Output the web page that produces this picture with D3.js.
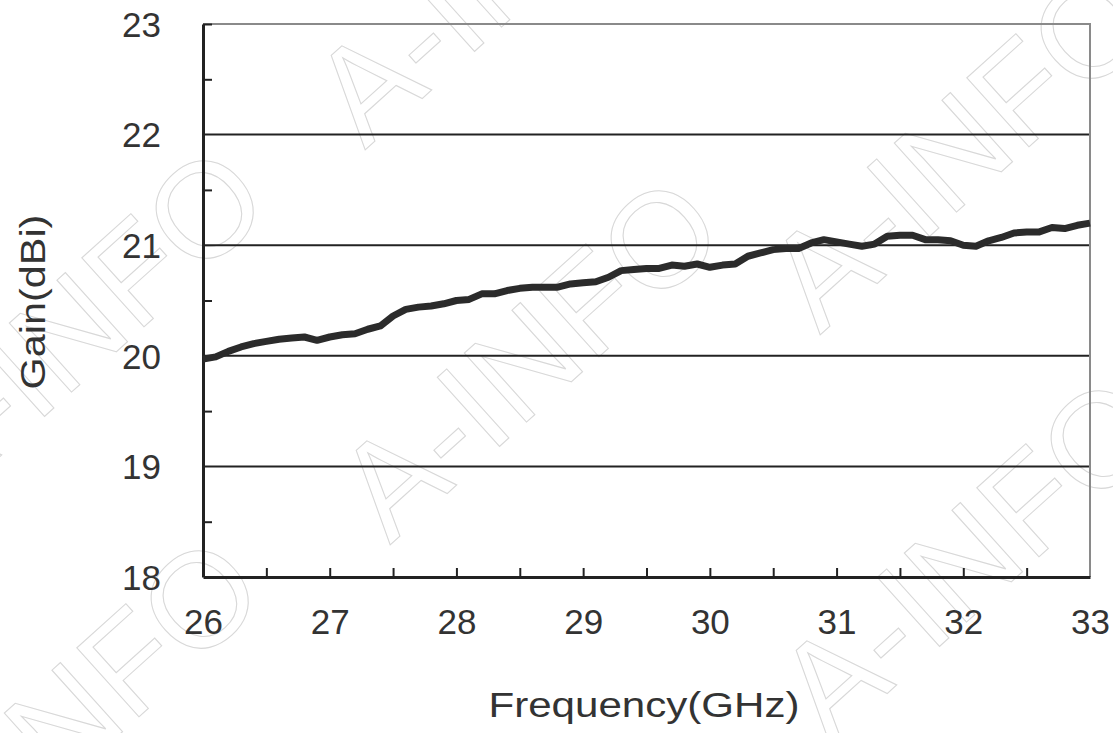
<!DOCTYPE html>
<html>
<head>
<meta charset="utf-8">
<script src="https://cdn.jsdelivr.net/npm/d3@7"></script>
<style>
  html, body { margin: 0; padding: 0; background: #fff; }
  svg { display: block; }
</style>
</head>
<body>
<div id="chart"></div>
<script>
// ---- Data -------------------------------------------------------
const FREQ = d3.range(0, 71).map(i => +(26 + i * 0.1).toFixed(1));   // GHz, 0.1 step
const GAIN = [
  19.97, 19.99, 20.04, 20.08, 20.11, 20.13, 20.15, 20.16, 20.17, 20.14,
  20.17, 20.19, 20.20, 20.24, 20.27, 20.36, 20.42, 20.44, 20.45, 20.47,
  20.50, 20.51, 20.56, 20.56, 20.59, 20.61, 20.62, 20.62, 20.62, 20.65,
  20.66, 20.67, 20.71, 20.77, 20.78, 20.79, 20.79, 20.82, 20.81, 20.83,
  20.80, 20.82, 20.83, 20.90, 20.93, 20.96, 20.97, 20.97, 21.02, 21.05,
  21.03, 21.01, 20.99, 21.01, 21.08, 21.09, 21.09, 21.05, 21.05, 21.04,
  21.00, 20.99, 21.04, 21.07, 21.11, 21.12, 21.12, 21.16, 21.15, 21.18,
  21.20
];
const X_TICKS = [26, 27, 28, 29, 30, 31, 32, 33];
const Y_TICKS = [18, 19, 20, 21, 22, 23];
const Y_GRID = [19, 20, 21, 22];
const X_LABEL = 'Frequency(GHz)';
const Y_LABEL = 'Gain(dBi)';

// ---- Layout -----------------------------------------------------
const W = 1113, H = 733;
const M = { top: 24, right: 23, bottom: 156, left: 203 };
const FONT = 'Liberation Sans, Arial, sans-serif';

const svg = d3.select('#chart').append('svg')
  .attr('width', W).attr('height', H);

// watermark (faint outlined text)
const wm = svg.append('g').attr('class', 'watermark');
[[365, 150], [390, 545], [820, 335], [830, 745], [-65, 515], [-70, 905], [1260, 130], [1250, 520]]
  .forEach(([x, y]) => {
    wm.append('text')
      .attr('transform', `translate(${x},${y}) rotate(-42)`)
      .attr('font-family', 'Liberation Sans Narrow, Arial Narrow, Liberation Sans, sans-serif')
      .attr('font-size', 135)
      .attr('fill', 'none')
      .attr('stroke', '#d8d8d8')
      .attr('stroke-width', 1.1)
      .text('A-INFO');
  });

const x = d3.scaleLinear().domain([26, 33]).range([M.left, W - M.right]);
const y = d3.scaleLinear().domain([18, 23]).range([H - M.bottom, M.top]);

// ---- Grid + frame -----------------------------------------------
svg.append('g').selectAll('line')
  .data(Y_GRID)
  .join('line')
  .attr('x1', x(26)).attr('x2', x(33))
  .attr('y1', d => y(d)).attr('y2', d => y(d))
  .attr('stroke', '#222').attr('stroke-width', 2);

// top + right border (grey)
svg.append('path')
  .attr('d', `M${x(26)},${y(23)}H${x(33)}V${y(18)}`)
  .attr('fill', 'none').attr('stroke', '#8a8a8a').attr('stroke-width', 2);

// ---- Axes -------------------------------------------------------
const xAxis = d3.axisBottom(x)
  .tickValues(d3.range(26, 33.01, 0.5))
  .tickSizeInner(-9).tickSizeOuter(0)
  .tickFormat(d => X_TICKS.includes(d) ? d : '');

const gx = svg.append('g')
  .attr('transform', `translate(0,${y(18)})`)
  .call(xAxis);
gx.select('.domain').attr('stroke', '#222').attr('stroke-width', 3);
gx.selectAll('.tick line').attr('stroke', '#222').attr('stroke-width', 2)
  .attr('display', d => (d === 26 || d === 33) ? 'none' : null);
gx.selectAll('.tick text')
  .attr('y', 57).attr('dy', 0)
  .attr('font-family', FONT).attr('font-size', 35).attr('fill', '#333');

const yAxis = d3.axisLeft(y)
  .tickValues(d3.range(18, 23.01, 0.5))
  .tickSizeInner(-9).tickSizeOuter(0)
  .tickFormat(d => Y_TICKS.includes(d) ? d : '');

const gy = svg.append('g')
  .attr('transform', `translate(${x(26)},0)`)
  .call(yAxis);
gy.select('.domain').attr('stroke', '#222').attr('stroke-width', 3);
gy.selectAll('.tick line').attr('stroke', '#222').attr('stroke-width', 2)
  .attr('display', d => Y_GRID.includes(d) || d === 18 ? 'none' : null);
gy.selectAll('.tick text')
  .attr('x', -42).attr('dy', '0.35em')
  .attr('font-family', FONT).attr('font-size', 35).attr('fill', '#333');

// ---- Series -----------------------------------------------------
const line = d3.line()
  .x((d, i) => x(FREQ[i]))
  .y(d => y(d));

svg.append('path')
  .datum(GAIN)
  .attr('d', line)
  .attr('fill', 'none')
  .attr('stroke', '#2b2b2b')
  .attr('stroke-width', 7)
  .attr('stroke-linejoin', 'round');

// ---- Axis titles (a little wider than the tick font) -------------
svg.append('text')
  .attr('transform', `translate(644,717) scale(1.17,1)`)
  .attr('text-anchor', 'middle')
  .attr('font-family', FONT).attr('font-size', 36).attr('fill', '#333')
  .text(X_LABEL);

svg.append('text')
  .attr('transform', `translate(45,302) rotate(-90) scale(1.15,1)`)
  .attr('text-anchor', 'middle')
  .attr('font-family', FONT).attr('font-size', 36).attr('fill', '#333')
  .text(Y_LABEL);
</script>
</body>
</html>
